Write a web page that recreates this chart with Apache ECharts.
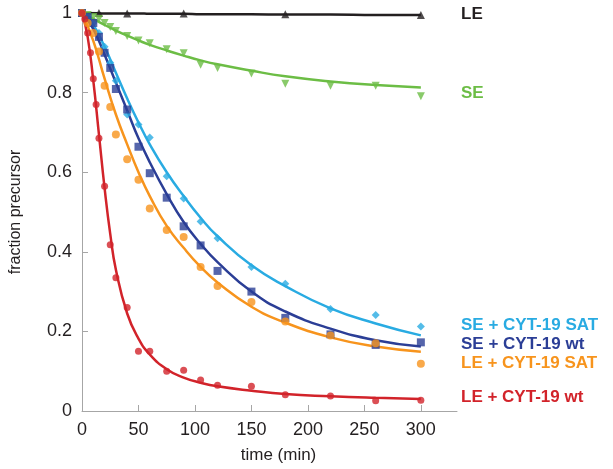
<!DOCTYPE html>
<html>
<head>
<meta charset="utf-8">
<script src="https://cdn.jsdelivr.net/npm/echarts@6/dist/echarts.min.js"></script>
<style>
  html, body { margin: 0; padding: 0; background: #fff; }
  #main { width: 613px; height: 469px; }
</style>
</head>
<body>
<div id="main"></div>
<script>
// measured time points (min)
const times = [0, 5, 10, 15, 20, 25, 30, 40, 50, 60, 75, 90, 105, 120, 150, 180, 220, 260, 300];
const timesRed = [0, 2.5, 5, 7.5, 10, 12.5, 15, 20, 25, 30, 40, 50, 60, 75, 90, 105, 120, 150, 180, 220, 260, 300];
const timesLE = [0, 15, 40, 90, 180, 300];

// measured fraction precursor
const leData = [1.0, 1.0, 0.999, 0.999, 0.997, 0.995];
const seData = [1.0, 0.995, 0.99, 0.985, 0.975, 0.965, 0.955, 0.9425, 0.931, 0.924, 0.909, 0.899, 0.87, 0.862, 0.848, 0.822, 0.8175, 0.8175, 0.791];
const seSatData = [1.0, 0.99, 0.975, 0.95, 0.915, 0.875, 0.83, 0.745, 0.72, 0.687, 0.59, 0.534, 0.476, 0.434, 0.362, 0.32, 0.256, 0.241, 0.212];
const seWtData = [1.0, 0.99, 0.975, 0.94, 0.90, 0.862, 0.809, 0.7575, 0.664, 0.5975, 0.536, 0.464, 0.416, 0.352, 0.30, 0.234, 0.1925, 0.166, 0.1725];
const leSatData = [1.0, 0.975, 0.95, 0.903, 0.8175, 0.764, 0.695, 0.6325, 0.581, 0.509, 0.455, 0.437, 0.362, 0.314, 0.274, 0.225, 0.19, 0.17, 0.119];
const leWtData = [1.0, 0.985, 0.95, 0.90, 0.835, 0.77, 0.685, 0.565, 0.4175, 0.335, 0.26, 0.15, 0.15, 0.10, 0.1025, 0.078, 0.065, 0.0625, 0.041, 0.0375, 0.026, 0.027];

// fitted curves
const fitTimes = [0, 10, 20, 30, 40, 50, 60, 75, 90, 105, 120, 150, 180, 220, 260, 300];
const leFit = [1.0, 1.0, 0.999, 0.999, 0.999, 0.999, 0.998, 0.998, 0.998, 0.997, 0.997, 0.997, 0.996, 0.996, 0.995, 0.995];
const seFit = [1.0, 0.985, 0.97, 0.956, 0.943, 0.931, 0.92, 0.906, 0.893, 0.881, 0.871, 0.855, 0.841, 0.828, 0.819, 0.813];
const seSatFit = [1.0, 0.97, 0.915, 0.85, 0.785, 0.725, 0.67, 0.6, 0.54, 0.4855, 0.439, 0.366, 0.314, 0.258, 0.22, 0.19];
const seWtFit = [1.0, 0.96, 0.895, 0.825, 0.755, 0.685, 0.625, 0.545, 0.475, 0.42, 0.374, 0.30, 0.25, 0.207, 0.178, 0.162];
const leSatFit = [1.0, 0.93, 0.835, 0.745, 0.67, 0.6, 0.54, 0.465, 0.41, 0.362, 0.323, 0.262, 0.222, 0.185, 0.162, 0.149];
const leWtFitTimes = [0, 5, 10, 15, 20, 25, 30, 40, 50, 60, 75, 90, 105, 120, 150, 180, 220, 260, 300];
const leWtFit = [1.0, 0.94, 0.83, 0.695, 0.56, 0.445, 0.355, 0.245, 0.182, 0.142, 0.105, 0.084, 0.071, 0.062, 0.051, 0.0425, 0.037, 0.033, 0.03];

const xTicks = [0, 50, 100, 150, 200, 250, 300];

const colors = {
  le: '#231f20',
  se: '#6cbd45',
  seSat: '#29abe2',
  seWt: '#2b3e96',
  leSat: '#f7941d',
  leWt: '#d2232a'
};

const pairs = (xs, ys) => xs.map((x, i) => [x, ys[i]]);

const fitLine = (name, xs, ys, color) => ({
  name: name,
  type: 'line',
  data: pairs(xs, ys),
  smooth: 0.5,
  showSymbol: false,
  silent: true,
  lineStyle: { color: color, width: 2.5 },
  z: 2
});

const points = (name, xs, ys, color, symbol, size, rotate) => ({
  name: name,
  type: 'scatter',
  data: pairs(xs, ys),
  symbol: symbol,
  symbolSize: size,
  symbolRotate: rotate || 0,
  itemStyle: { color: color },
  z: 3
});

const chart = echarts.init(document.getElementById('main'));

const labelFont = 'bold 17px "Liberation Sans", Arial, sans-serif';
const sideLabel = (text, y, color) => ({
  type: 'text',
  left: 461,
  top: y - 10,
  style: { text: text, fill: color, font: labelFont }
});

chart.setOption({
  animation: false,
  backgroundColor: '#fff',
  grid: { left: 77, right: 156, top: 13, bottom: 56 },
  xAxis: {
    type: 'value',
    min: 0,
    max: 332,
    name: 'time (min)',
    nameLocation: 'middle',
    nameGap: 36,
    nameTextStyle: { color: '#231f20', fontSize: 17, fontFamily: 'Liberation Sans', padding: [0, 0, 0, 18] },
    axisLine: { lineStyle: { color: '#a6a6a6', width: 1 } },
    axisTick: { inside: true, length: 6, customValues: xTicks, lineStyle: { color: '#a6a6a6' } },
    axisLabel: { customValues: xTicks, color: '#231f20', fontSize: 18, fontFamily: 'Liberation Sans', margin: 10 },
    splitLine: { show: false }
  },
  yAxis: {
    type: 'value',
    min: 0,
    max: 1,
    interval: 0.2,
    name: 'fraction precursor',
    nameLocation: 'middle',
    nameGap: 58,
    nameTextStyle: { color: '#231f20', fontSize: 16, fontFamily: 'Liberation Sans' },
    axisLine: { show: true, lineStyle: { color: '#a6a6a6', width: 1 } },
    axisTick: { show: true, inside: true, length: 6, lineStyle: { color: '#a6a6a6' } },
    axisLabel: { color: '#231f20', fontSize: 18, fontFamily: 'Liberation Sans', margin: 10 },
    splitLine: { show: false }
  },
  graphic: [
    sideLabel('LE', 16, colors.le),
    sideLabel('SE', 95, colors.se),
    sideLabel('SE + CYT-19 SAT', 327, colors.seSat),
    sideLabel('SE + CYT-19 wt', 346, colors.seWt),
    sideLabel('LE + CYT-19 SAT', 365, colors.leSat),
    sideLabel('LE + CYT-19 wt', 399, colors.leWt)
  ],
  series: [
    fitLine('LE fit', fitTimes, leFit, colors.le),
    fitLine('SE fit', fitTimes, seFit, colors.se),
    fitLine('SE + CYT-19 SAT fit', fitTimes, seSatFit, colors.seSat),
    fitLine('SE + CYT-19 wt fit', fitTimes, seWtFit, colors.seWt),
    fitLine('LE + CYT-19 SAT fit', fitTimes, leSatFit, colors.leSat),
    fitLine('LE + CYT-19 wt fit', leWtFitTimes, leWtFit, colors.leWt),
    points('LE', timesLE, leData, colors.le, 'triangle', 8),
    points('SE', times, seData, colors.se, 'triangle', 8, 180),
    points('SE + CYT-19 SAT', times, seSatData, colors.seSat, 'diamond', 8),
    points('SE + CYT-19 wt', times, seWtData, colors.seWt, 'rect', 8),
    points('LE + CYT-19 SAT', times, leSatData, colors.leSat, 'circle', 8),
    points('LE + CYT-19 wt', timesRed, leWtData, colors.leWt, 'circle', 7)
  ]
});
</script>
</body>
</html>
